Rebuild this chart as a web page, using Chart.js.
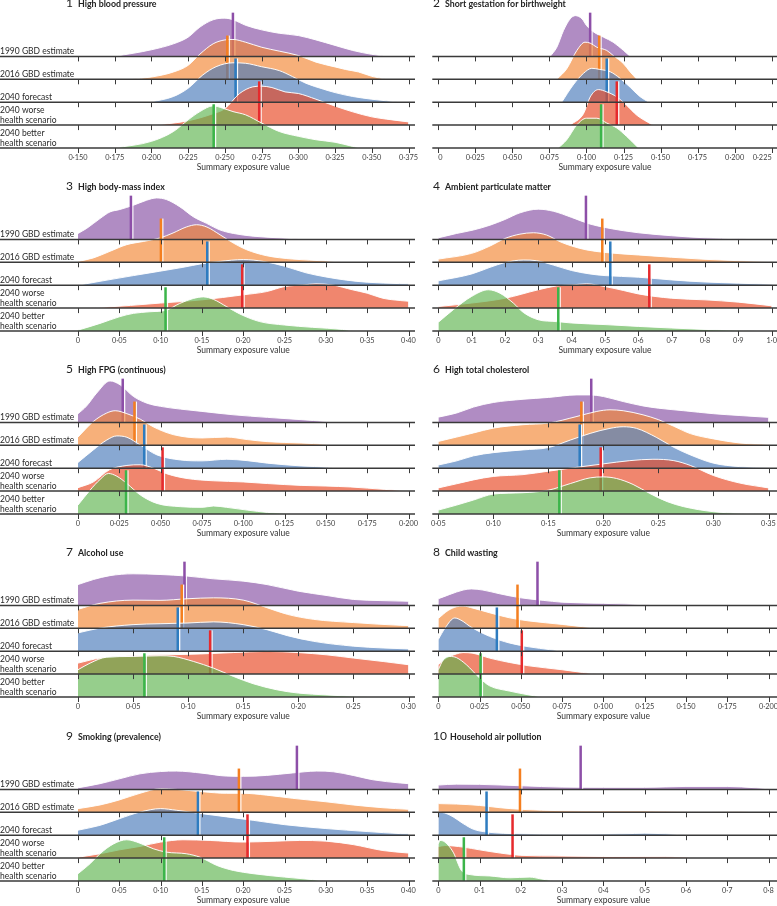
<!DOCTYPE html>
<html><head><meta charset="utf-8">
<script src="https://cdn.jsdelivr.net/npm/chart.js@4.4.1/dist/chart.umd.min.js"></script>
<style>
html,body{margin:0;padding:0;background:#fff;}
body{width:777px;height:906px;position:relative;overflow:hidden;font-family:Lato,'Open Sans',sans-serif;}
canvas{position:absolute;}
.num{position:absolute;font-size:12px;line-height:12px;color:#222;white-space:nowrap;}
.nm{position:absolute;font-size:8.8px;line-height:12px;font-weight:bold;color:#222;white-space:nowrap;}
</style></head><body>
<script>
// ---------- shared ----------
const SCENARIOS = ['1990 GBD estimate', '2016 GBD estimate', '2040 forecast', ['2040 worse', 'health scenario'], ['2040 better', 'health scenario']];
const AXIS_TITLE = 'Summary exposure value';

// ---------- 1 High blood pressure ----------
const bpTicks = [0.15, 0.175, 0.2, 0.225, 0.25, 0.275, 0.3, 0.325, 0.35, 0.375];
const bpTickLabels = ['0·150', '0·175', '0·200', '0·225', '0·250', '0·275', '0·300', '0·325', '0·350', '0·375'];
const bp1990 = [[0.175,0],[0.2,0.29],[0.215,0.55],[0.225,0.84],[0.233,1.28],[0.242,1.6],[0.25,1.67],[0.2555,1.6],[0.2645,1.35],[0.275,1.16],[0.287,1.01],[0.3,0.91],[0.312,0.72],[0.325,0.48],[0.337,0.26],[0.35,0.09],[0.36,0]];
const bp2016 = [[0.185,0],[0.2,0.1],[0.215,0.32],[0.225,0.61],[0.233,1.1],[0.242,1.55],[0.25,1.72],[0.2555,1.74],[0.264,1.62],[0.275,1.4],[0.287,1.23],[0.3,1.04],[0.312,0.75],[0.325,0.54],[0.332,0.43],[0.341,0.32],[0.35,0.13],[0.36,0]];
const bpForecast = [[0.199,0],[0.215,0.25],[0.225,0.61],[0.235,1.19],[0.244,1.55],[0.2555,1.72],[0.264,1.7],[0.275,1.55],[0.287,1.38],[0.296,1.12],[0.305,0.83],[0.317,0.57],[0.325,0.42],[0.337,0.25],[0.35,0.13],[0.36,0.06],[0.369,0]];
const bpWorse = [[0.203,0],[0.225,0.19],[0.242,0.5],[0.25,0.72],[0.26,1.38],[0.269,1.67],[0.275,1.7],[0.282,1.64],[0.291,1.45],[0.3,1.38],[0.312,1.13],[0.325,0.83],[0.337,0.58],[0.35,0.36],[0.36,0.26],[0.375,0.14]];
const bpBetter = [[0.175,0],[0.2,0.29],[0.215,0.72],[0.225,1.23],[0.233,1.59],[0.242,1.84],[0.2485,1.74],[0.2555,1.59],[0.264,1.45],[0.275,1.09],[0.287,0.72],[0.3,0.51],[0.312,0.36],[0.325,0.25],[0.337,0.07],[0.342,0]];
const bpMeans = [0.2555, 0.2517, 0.2573, 0.2734, 0.2424];

// ---------- 2 Short gestation for birthweight ----------
const sgTicks = [0, 0.025, 0.05, 0.075, 0.1, 0.125, 0.15, 0.175, 0.2, 0.225];
const sgTickLabels = ['0', '0·025', '0·050', '0·075', '0·100', '0·125', '0·150', '0·175', '0·200', '0·225'];
const sg1990 = [[0.0755,0],[0.08,0.4],[0.0845,1.13],[0.089,1.64],[0.0925,1.78],[0.097,1.64],[0.1,1.35],[0.105,1.06],[0.1115,0.84],[0.118,0.62],[0.125,0.26],[0.1295,0]];
const sg2016 = [[0.08,0],[0.0867,0.46],[0.0935,1.26],[0.099,1.62],[0.1025,1.58],[0.107,1.4],[0.1137,1.26],[0.118,1.04],[0.125,0.68],[0.1295,0.32],[0.134,0]];
const sgForecast = [[0.0833,0],[0.091,0.75],[0.098,1.26],[0.1036,1.48],[0.109,1.43],[0.116,1.33],[0.1227,1.04],[0.1295,0.65],[0.136,0.25],[0.142,0]];
const sgWorse = [[0.089,0],[0.098,0.5],[0.1025,1.23],[0.108,1.55],[0.1137,1.45],[0.1205,1.23],[0.127,0.87],[0.134,0.43],[0.141,0.14],[0.145,0]];
const sgBetter = [[0.081,0],[0.0867,0.36],[0.0935,1.01],[0.1,1.3],[0.107,1.3],[0.1137,1.09],[0.1205,0.87],[0.127,0.51],[0.134,0.07],[0.135,0]];
const sgMeans = [0.1025, 0.1086, 0.1137, 0.1205, 0.1099];

// ---------- 3 High body-mass index ----------
const bmiTicks = [0, 0.05, 0.1, 0.15, 0.2, 0.25, 0.3, 0.35, 0.4];
const bmiTickLabels = ['0', '0·05', '0·10', '0·15', '0·20', '0·25', '0·30', '0·35', '0·40'];
const bmi1990 = [[0,0.26],[0.0105,0.48],[0.0266,0.91],[0.0387,1.2],[0.05,1.3],[0.067,1.49],[0.083,1.71],[0.095,1.81],[0.107,1.74],[0.1234,1.42],[0.1395,0.99],[0.1556,0.7],[0.172,0.41],[0.188,0.26],[0.212,0.14],[0.248,0.06],[0.276,0]];
const bmi2016 = [[0,0.04],[0.0185,0.19],[0.0387,0.48],[0.0589,0.77],[0.079,0.91],[0.099,1.06],[0.115,1.28],[0.131,1.54],[0.1435,1.64],[0.156,1.54],[0.172,1.2],[0.188,0.84],[0.204,0.55],[0.228,0.29],[0.26,0.14],[0.3,0.06],[0.325,0]];
const bmiForecast = [[0,0],[0.0266,0.17],[0.067,0.42],[0.099,0.61],[0.127,0.78],[0.15,0.94],[0.172,1.04],[0.2,1.12],[0.224,1.04],[0.25,0.83],[0.276,0.54],[0.3,0.36],[0.325,0.22],[0.35,0.13],[0.389,0.07],[0.4,0.06]];
const bmiWorse = [[0,0],[0.027,0.03],[0.1,0.22],[0.15,0.36],[0.2,0.58],[0.228,0.72],[0.25,0.94],[0.272,1.01],[0.288,1.06],[0.308,1.01],[0.332,0.8],[0.35,0.65],[0.369,0.43],[0.39,0.33],[0.4,0.3]];
const bmiBetter = [[0,0.04],[0.0266,0.33],[0.05,0.62],[0.067,0.77],[0.087,0.84],[0.107,0.91],[0.123,1.2],[0.1395,1.42],[0.152,1.49],[0.164,1.38],[0.18,1.06],[0.196,0.74],[0.22,0.41],[0.25,0.26],[0.284,0.16],[0.32,0.07],[0.333,0]];
const bmiMeans = [0.0641, 0.1004, 0.1565, 0.1988, 0.106];

// ---------- 4 Ambient particulate matter ----------
const pmTicks = [0, 0.1, 0.2, 0.3, 0.4, 0.5, 0.6, 0.7, 0.8, 0.9, 1.0];
const pmTickLabels = ['0', '0·1', '0·2', '0·3', '0·4', '0·5', '0·6', '0·7', '0·8', '0·9', '1·0'];
const pm1990 = [[0,0.07],[0.055,0.26],[0.105,0.41],[0.155,0.62],[0.2,0.87],[0.245,1.16],[0.3,1.32],[0.345,1.23],[0.4,0.96],[0.455,0.67],[0.5,0.52],[0.555,0.38],[0.6,0.29],[0.7,0.16],[0.8,0.07],[0.9,0.03],[0.955,0]];
const pm2016 = [[0,0.14],[0.1,0.39],[0.155,0.71],[0.2,1.04],[0.245,1.23],[0.285,1.29],[0.325,1.19],[0.365,0.9],[0.4,0.71],[0.445,0.54],[0.5,0.43],[0.6,0.32],[0.7,0.22],[0.8,0.13],[0.9,0.07],[1.0,0.03]];
const pmForecast = [[0,0.19],[0.1,0.49],[0.155,0.78],[0.2,0.99],[0.255,1.1],[0.295,1.07],[0.345,0.88],[0.4,0.64],[0.455,0.49],[0.5,0.42],[0.6,0.35],[0.7,0.23],[0.8,0.14],[0.9,0.09],[1.0,0.04]];
const pmWorse = [[0,0.07],[0.1,0.22],[0.2,0.43],[0.3,0.8],[0.355,0.97],[0.4,1.01],[0.445,1.06],[0.5,0.94],[0.555,0.77],[0.6,0.62],[0.7,0.43],[0.8,0.36],[0.9,0.26],[1.0,0.1]];
const pmBetter = [[0,0.38],[0.045,0.93],[0.1,1.51],[0.15,1.8],[0.185,1.65],[0.225,1.22],[0.255,0.81],[0.3,0.49],[0.355,0.41],[0.4,0.35],[0.5,0.28],[0.6,0.2],[0.7,0.13],[0.8,0.07],[0.9,0.03],[0.955,0]];
const pmMeans = [0.443, 0.492, 0.516, 0.633, 0.36];

// ---------- 5 High FPG (continuous) ----------
const fpgTicks = [0, 0.025, 0.05, 0.075, 0.1, 0.125, 0.15, 0.175, 0.2];
const fpgTickLabels = ['0', '0·025', '0·050', '0·075', '0·100', '0·125', '0·150', '0·175', '0·200'];
const fpg1990 = [[0,0.38],[0.005,0.7],[0.0113,1.28],[0.0194,1.81],[0.0255,1.64],[0.0336,1.13],[0.0417,0.84],[0.05,0.7],[0.062,0.58],[0.075,0.48],[0.0943,0.33],[0.1146,0.22],[0.135,0.12],[0.15,0.04],[0.155,0]];
const fpg2016 = [[0,0.36],[0.0093,1.04],[0.0174,1.41],[0.0225,1.51],[0.0296,1.38],[0.0377,1.14],[0.0457,0.8],[0.058,0.46],[0.075,0.32],[0.09,0.36],[0.1024,0.25],[0.1146,0.16],[0.135,0.1],[0.15,0.04],[0.155,0]];
const fpgForecast = [[0,0.25],[0.0093,0.8],[0.0174,1.23],[0.0235,1.41],[0.0296,1.35],[0.0377,1.01],[0.0478,0.58],[0.062,0.36],[0.075,0.32],[0.09,0.39],[0.1024,0.33],[0.1146,0.22],[0.135,0.1],[0.151,0.04],[0.155,0]];
const fpgWorse = [[0,0.15],[0.0093,0.4],[0.019,0.93],[0.0296,1.12],[0.0377,1.15],[0.0457,1.0],[0.054,0.75],[0.066,0.55],[0.082,0.45],[0.1,0.4],[0.1146,0.33],[0.135,0.25],[0.15,0.22],[0.165,0.18],[0.175,0.13],[0.1955,0.03],[0.2,0.02]];
const fpgBetter = [[0,0.39],[0.0073,1.04],[0.0134,1.51],[0.0184,1.77],[0.0235,1.65],[0.0296,1.33],[0.0377,0.83],[0.0478,0.46],[0.062,0.32],[0.075,0.29],[0.082,0.35],[0.09,0.29],[0.1024,0.17],[0.1146,0.07],[0.125,0.03],[0.129,0]];
const fpgMeans = [0.0271, 0.0342, 0.0401, 0.0512, 0.0291];

// ---------- 6 High total cholesterol ----------
const cholTicks = [0.05, 0.1, 0.15, 0.2, 0.25, 0.3, 0.35];
const cholTickLabels = ['0·05', '0·10', '0·15', '0·20', '0·25', '0·30', '0·35'];
const chol1990 = [[0.05,0.23],[0.0667,0.41],[0.082,0.67],[0.1,0.87],[0.127,1.01],[0.15,1.09],[0.176,1.2],[0.188,1.2],[0.2,1.13],[0.218,0.91],[0.236,0.72],[0.25,0.62],[0.273,0.51],[0.3,0.38],[0.324,0.3],[0.35,0.22]];
const chol2016 = [[0.05,0.17],[0.0667,0.36],[0.082,0.54],[0.1,0.75],[0.127,0.9],[0.15,0.97],[0.176,1.26],[0.194,1.48],[0.206,1.55],[0.218,1.51],[0.236,1.33],[0.25,1.12],[0.264,0.83],[0.279,0.51],[0.3,0.28],[0.324,0.1],[0.35,0.04]];
const cholForecast = [[0.05,0.14],[0.0667,0.32],[0.082,0.54],[0.1,0.68],[0.127,0.8],[0.15,0.9],[0.17,1.23],[0.188,1.52],[0.206,1.74],[0.218,1.81],[0.23,1.74],[0.248,1.35],[0.264,0.91],[0.279,0.58],[0.3,0.22],[0.324,0.07],[0.35,0.03]];
const cholWorse = [[0.05,0.14],[0.0667,0.32],[0.082,0.49],[0.1,0.64],[0.127,0.72],[0.15,0.87],[0.176,1.04],[0.2,1.19],[0.224,1.33],[0.245,1.39],[0.264,1.33],[0.279,1.12],[0.3,0.68],[0.324,0.35],[0.35,0.14]];
const cholBetter = [[0.05,0.17],[0.0667,0.39],[0.082,0.61],[0.1,0.87],[0.127,0.93],[0.15,1.04],[0.17,1.33],[0.188,1.58],[0.2,1.62],[0.212,1.55],[0.227,1.29],[0.242,0.9],[0.258,0.54],[0.273,0.32],[0.3,0.1],[0.324,0.03],[0.35,0.01]];
const cholMeans = [0.189, 0.18, 0.1785, 0.1976, 0.16];

// ---------- 7 Alcohol use ----------
const alcTicks = [0, 0.05, 0.1, 0.15, 0.2, 0.25, 0.3];
const alcTickLabels = ['0', '0·05', '0·10', '0·15', '0·20', '0·25', '0·30'];
const alc1990 = [[0,0.91],[0.014,1.13],[0.029,1.3],[0.05,1.38],[0.0745,1.35],[0.099,1.28],[0.123,1.16],[0.15,1.06],[0.1715,0.91],[0.2,0.62],[0.226,0.43],[0.25,0.26],[0.275,0.21],[0.3,0.18]];
const alc2016 = [[0,0.83],[0.02,1.09],[0.05,1.23],[0.0745,1.22],[0.099,1.29],[0.123,1.33],[0.15,1.23],[0.1715,0.9],[0.19,0.61],[0.214,0.39],[0.25,0.25],[0.293,0.13],[0.3,0.12]];
const alcForecast = [[0,0.8],[0.02,1.01],[0.05,1.16],[0.0745,1.2],[0.099,1.23],[0.123,1.28],[0.15,1.16],[0.1715,0.94],[0.19,0.68],[0.214,0.43],[0.25,0.22],[0.277,0.14],[0.3,0.1]];
const alcWorse = [[0,0.48],[0.02,0.7],[0.05,0.8],[0.08,0.84],[0.111,0.88],[0.141,0.94],[0.1715,0.99],[0.2,0.94],[0.226,0.84],[0.25,0.7],[0.277,0.55],[0.3,0.41]];
const alcBetter = [[0,1.19],[0.011,1.48],[0.026,1.74],[0.05,1.77],[0.0745,1.8],[0.087,1.77],[0.105,1.55],[0.123,1.26],[0.141,0.9],[0.159,0.58],[0.18,0.32],[0.2,0.17],[0.226,0.09],[0.25,0.03],[0.263,0]];
const alcMeans = [0.0967, 0.0942, 0.0906, 0.12, 0.0603];

// ---------- 8 Child wasting ----------
const cwTicks = [0, 0.025, 0.05, 0.075, 0.1, 0.125, 0.15, 0.175, 0.2];
const cwTickLabels = ['0', '0·025', '0·050', '0·075', '0·100', '0·125', '0·150', '0·175', '0·200'];
const cw1990 = [[0,0.29],[0.007,0.48],[0.015,0.67],[0.02,0.72],[0.027,0.67],[0.037,0.51],[0.05,0.33],[0.0635,0.22],[0.075,0.14],[0.1,0.09],[0.125,0.03],[0.132,0]];
const cw2016 = [[0,0.43],[0.006,0.78],[0.011,0.94],[0.015,0.97],[0.021,0.88],[0.031,0.68],[0.043,0.46],[0.055,0.32],[0.075,0.17],[0.0875,0.07],[0.096,0]];
const cwForecast = [[0,0.51],[0.004,1.0],[0.01,1.45],[0.015,1.3],[0.019,1.09],[0.031,0.65],[0.043,0.36],[0.055,0.19],[0.0675,0.07],[0.0756,0]];
const cwWorse = [[0,0.41],[0.005,0.7],[0.011,0.88],[0.015,0.94],[0.021,0.91],[0.031,0.7],[0.043,0.51],[0.055,0.36],[0.075,0.19],[0.0875,0.07],[0.096,0]];
const cwBetter = [[0,1.19],[0.003,1.62],[0.007,1.77],[0.011,1.72],[0.017,1.41],[0.025,0.83],[0.031,0.49],[0.043,0.26],[0.055,0.09],[0.063,0]];
const cwMeans = [0.0601, 0.048, 0.0355, 0.0506, 0.0256];

// ---------- 9 Smoking (prevalence) ----------
const smkTicks = [0, 0.05, 0.1, 0.15, 0.2, 0.25, 0.3, 0.35, 0.4];
const smkTickLabels = ['0', '0·05', '0·10', '0·15', '0·20', '0·25', '0·30', '0·35', '0·40'];
const smk1990 = [[0,0.07],[0.0266,0.25],[0.05,0.46],[0.075,0.68],[0.1,0.78],[0.119,0.8],[0.15,0.71],[0.18,0.58],[0.2,0.57],[0.228,0.61],[0.26,0.72],[0.289,0.8],[0.309,0.77],[0.333,0.61],[0.357,0.42],[0.39,0.28],[0.4,0.25]];
const smk2016 = [[0,0.16],[0.0266,0.32],[0.05,0.54],[0.075,0.83],[0.1,1.03],[0.119,1.0],[0.15,0.9],[0.18,0.83],[0.2,0.83],[0.228,0.75],[0.26,0.61],[0.3,0.46],[0.333,0.32],[0.369,0.2],[0.4,0.13]];
const smkForecast = [[0,0.22],[0.0266,0.43],[0.05,0.72],[0.075,1.01],[0.1,1.16],[0.119,1.09],[0.15,0.94],[0.18,0.8],[0.212,0.65],[0.25,0.46],[0.3,0.29],[0.35,0.16],[0.39,0.07],[0.4,0.06]];
const smkWorse = [[0,0.04],[0.0266,0.19],[0.05,0.36],[0.075,0.51],[0.1,0.7],[0.127,0.8],[0.16,0.77],[0.2,0.7],[0.24,0.74],[0.268,0.77],[0.3,0.74],[0.333,0.59],[0.369,0.33],[0.4,0.22]];
const smkBetter = [[0,0.32],[0.0145,0.75],[0.0266,1.19],[0.043,1.62],[0.059,1.8],[0.075,1.65],[0.091,1.41],[0.107,1.26],[0.131,1.19],[0.1476,1.04],[0.168,0.68],[0.188,0.46],[0.212,0.32],[0.25,0.17],[0.284,0.06],[0.3,0]];
const smkMeans = [0.265, 0.1948, 0.1452, 0.2052, 0.1044];

// ---------- 10 Household air pollution ----------
const hapTicks = [0, 0.1, 0.2, 0.3, 0.4, 0.5, 0.6, 0.7, 0.8];
const hapTickLabels = ['0', '0·1', '0·2', '0·3', '0·4', '0·5', '0·6', '0·7', '0·8'];
const hap1990 = [[0,0.19],[0.044,0.23],[0.1,0.22],[0.2,0.16],[0.3,0.1],[0.4,0.09],[0.5,0.09],[0.6,0.13],[0.7,0.13],[0.77,0.07],[0.8,0.03]];
const hap2016 = [[0,0.38],[0.044,0.36],[0.1,0.3],[0.15,0.2],[0.2,0.13],[0.3,0.07],[0.4,0.06],[0.5,0.06],[0.6,0.04],[0.7,0.03],[0.77,0]];
const hapForecast = [[0,1.01],[0.016,0.97],[0.036,0.8],[0.06,0.51],[0.085,0.26],[0.117,0.14],[0.2,0.06],[0.3,0.04],[0.45,0.06],[0.5,0.09],[0.55,0.06],[0.6,0.01],[0.61,0]];
const hapWorse = [[0,0.5],[0.016,0.55],[0.06,0.48],[0.1,0.36],[0.15,0.22],[0.2,0.12],[0.3,0.09],[0.4,0.07],[0.5,0.06],[0.6,0.04],[0.625,0]];
const hapBetter = [[0,1.62],[0.004,1.77],[0.016,1.7],[0.036,1.26],[0.056,0.46],[0.077,0.28],[0.125,0.22],[0.173,0.14],[0.222,0.17],[0.246,0.1],[0.27,0.03],[0.278,0]];
const hapMeans = [0.345, 0.198, 0.117, 0.18, 0.062];

// ---------- styling ----------
const FILLS = ['rgba(134,78,163,0.65)', 'rgba(243,133,50,0.65)', 'rgba(72,121,186,0.65)', 'rgba(232,69,32,0.65)', 'rgba(93,180,78,0.65)'];
const BAR_COLORS = ['#8d4fa8', '#f47f20', '#2e7cc0', '#e62a2d', '#3cb54a'];
const BASES = [4, 3, 2, 1, 0];
const BAR_H = 1.91;
const ROW_PX = 22.9;

const PANELS = [
  {n: '1', name: 'High blood pressure', series: [bp1990, bp2016, bpForecast, bpWorse, bpBetter], means: bpMeans, ticks: bpTicks, labels: bpTickLabels},
  {n: '2', name: 'Short gestation for birthweight', series: [sg1990, sg2016, sgForecast, sgWorse, sgBetter], means: sgMeans, ticks: sgTicks, labels: sgTickLabels},
  {n: '3', name: 'High body-mass index', series: [bmi1990, bmi2016, bmiForecast, bmiWorse, bmiBetter], means: bmiMeans, ticks: bmiTicks, labels: bmiTickLabels},
  {n: '4', name: 'Ambient particulate matter', series: [pm1990, pm2016, pmForecast, pmWorse, pmBetter], means: pmMeans, ticks: pmTicks, labels: pmTickLabels},
  {n: '5', name: 'High FPG (continuous)', series: [fpg1990, fpg2016, fpgForecast, fpgWorse, fpgBetter], means: fpgMeans, ticks: fpgTicks, labels: fpgTickLabels},
  {n: '6', name: 'High total cholesterol', series: [chol1990, chol2016, cholForecast, cholWorse, cholBetter], means: cholMeans, ticks: cholTicks, labels: cholTickLabels},
  {n: '7', name: 'Alcohol use', series: [alc1990, alc2016, alcForecast, alcWorse, alcBetter], means: alcMeans, ticks: alcTicks, labels: alcTickLabels},
  {n: '8', name: 'Child wasting', series: [cw1990, cw2016, cwForecast, cwWorse, cwBetter], means: cwMeans, ticks: cwTicks, labels: cwTickLabels},
  {n: '9', name: 'Smoking (prevalence)', series: [smk1990, smk2016, smkForecast, smkWorse, smkBetter], means: smkMeans, ticks: smkTicks, labels: smkTickLabels},
  {n: '10', name: 'Household air pollution', series: [hap1990, hap2016, hapForecast, hapWorse, hapBetter], means: hapMeans, ticks: hapTicks, labels: hapTickLabels}
];

// layout
const PANEL_TOPS = [0, 183, 366, 549, 733];
const CANVAS_H = 173;
const PLOT_BOTTOM = 148;
const AXIS_H = 24.5;

function ridgePlugin(P, isLeft) {
  return {
    id: 'ridge' + P.n,
    afterDatasetDraw(chart, args) {
      const i = args.index;
      const xs = chart.scales.x, ys = chart.scales.y, ctx = chart.ctx;
      const px = xs.getPixelForValue(P.means[i]);
      const yb = ys.getPixelForValue(BASES[i]);
      const yt = ys.getPixelForValue(BASES[i] + BAR_H);
      ctx.save();
      ctx.fillStyle = 'rgba(255,255,255,0.95)';
      ctx.fillRect(px + 1.2, yt, 1.3, yb - yt);
      ctx.fillStyle = BAR_COLORS[i];
      ctx.fillRect(px - 1.3, yt, 2.5, yb - yt);
      ctx.restore();
    },
    afterDatasetsDraw(chart) {
      const xs = chart.scales.x, ys = chart.scales.y, ctx = chart.ctx, a = chart.chartArea;
      const L = isLeft ? 0 : a.left - 6;
      const R = isLeft ? a.right + 6.5 : chart.width;
      ctx.save();
      ctx.strokeStyle = '#3a3a3a';
      BASES.forEach((b, i) => {
        const y = ys.getPixelForValue(b);
        ctx.lineWidth = 1.5;
        ctx.beginPath(); ctx.moveTo(L, y); ctx.lineTo(R, y); ctx.stroke();
        ctx.lineWidth = 1;
        ctx.beginPath();
        P.ticks.forEach(v => {
          const x = Math.round(xs.getPixelForValue(v)) + 0.5;
          ctx.moveTo(x, y); ctx.lineTo(x, y + 5);
        });
        ctx.stroke();
        if (isLeft) {
          ctx.fillStyle = '#2a2a2a';
          ctx.font = '8.5px Lato, "Open Sans", sans-serif';
          ctx.textAlign = 'left';
          ctx.textBaseline = 'alphabetic';
          const lab = SCENARIOS[i];
          if (Array.isArray(lab)) {
            ctx.fillText(lab[0], 0, y - 12);
            ctx.fillText(lab[1], 0, y - 2);
          } else {
            ctx.fillText(lab, 0, y - 2);
          }
        }
      });
      ctx.restore();
    }
  };
}

PANELS.forEach((P, k) => {
  const isLeft = k % 2 === 0;
  const row = Math.floor(k / 2);
  const top = PANEL_TOPS[row];
  const cv = document.createElement('canvas');
  const W = isLeft ? 420 : 360;
  cv.width = W; cv.height = CANVAS_H;
  cv.style.left = (isLeft ? 0 : 425) + 'px';
  cv.style.top = top + 'px';
  cv.style.width = W + 'px'; cv.style.height = CANVAS_H + 'px';
  document.body.appendChild(cv);

  const padLeft = isLeft ? 78 : 13.3;
  const padRight = isLeft ? 11.5 : (row < 2 ? 13.3 : 16.5);

  const datasets = P.series.map((arr, i) => ({
    data: arr.map(p => ({x: p[0], y: BASES[i] + p[1]})),
    fill: {value: BASES[i]},
    backgroundColor: FILLS[i],
    borderColor: 'rgba(255,255,255,0.95)',
    borderWidth: 1,
    pointRadius: 0,
    cubicInterpolationMode: 'monotone',
    order: 5 - i
  }));

  new Chart(cv, {
    type: 'line',
    data: {datasets},
    options: {
      responsive: false,
      animation: false,
      devicePixelRatio: 1,
      layout: {padding: {left: padLeft, right: padRight, top: 0, bottom: CANVAS_H - PLOT_BOTTOM - AXIS_H}},
      plugins: {legend: {display: false}, tooltip: {enabled: false}, title: {display: false}},
      scales: {
        x: {
          type: 'linear',
          min: P.ticks[0],
          max: P.ticks[P.ticks.length - 1],
          grid: {display: false, drawTicks: false, tickLength: 0},
          border: {display: false},
          afterBuildTicks: s => { s.ticks = P.ticks.map(v => ({value: v})); },
          afterFit: s => { s.height = AXIS_H; s.paddingLeft = 0; s.paddingRight = 0; },
          ticks: {
            autoSkip: false, maxRotation: 0, minRotation: 0, padding: 5,
            align: (P.n === '2') ? 'inner' : 'center',
            color: '#444',
            font: {family: 'Lato, "Open Sans", sans-serif', size: 7.4},
            callback: (v, idx) => P.labels[idx]
          },
          title: {display: true, text: AXIS_TITLE, color: '#333', padding: 0,
                  font: {family: 'Lato, "Open Sans", sans-serif', size: 8.5}}
        },
        y: {type: 'linear', display: false, min: 0, max: PLOT_BOTTOM / ROW_PX}
      }
    },
    plugins: [ridgePlugin(P, isLeft)]
  });

  // panel title
  const num = document.createElement('div');
  num.className = 'num';
  num.textContent = P.n;
  num.style.top = (top - 3.3) + 'px';
  const nm = document.createElement('div');
  nm.className = 'nm';
  nm.textContent = P.name;
  nm.style.top = (top - 2.1) + 'px';
  if (isLeft) {
    num.style.left = '60px'; num.style.width = '13px'; num.style.textAlign = 'right';
    nm.style.left = '78px';
  } else {
    num.style.left = '433px';
    nm.style.left = (P.n.length > 1 ? 450 : 445) + 'px';
  }
  document.body.appendChild(num);
  document.body.appendChild(nm);
});
</script>
</body></html>
